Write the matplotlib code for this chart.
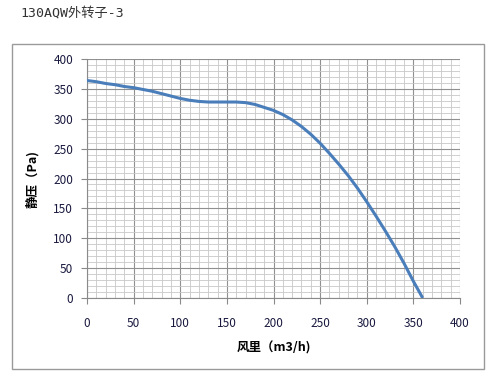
import matplotlib
matplotlib.use("Agg")
import matplotlib.pyplot as plt
from matplotlib.patches import Rectangle
from matplotlib.ticker import MultipleLocator

plt.rcParams['font.family'] = ['Noto Sans CJK SC', 'DejaVu Sans']

# Courbe (débit m3/h, pression statique Pa)
debit = [0, 10, 20, 30, 40, 50, 60, 70, 80, 90, 100, 110, 120, 130, 140, 150,
         160, 170, 180, 190, 200, 210, 220, 230, 240, 250, 260, 270, 280, 290,
         300, 310, 320, 330, 340, 350, 360]
pression = [364, 362, 359, 357, 354, 352, 349, 346, 342, 338, 334, 331, 329, 328,
            328, 328, 328, 327, 324, 319, 314, 307, 298, 287, 274, 259, 242, 224,
            205, 184, 161, 137, 112, 86, 58, 28, 0]

titre = "130AQW外转子-3"
x_nom = "风里（m3/h)"
y_nom = "静压（Pa)"

fig = plt.figure(figsize=(5.0, 3.84), dpi=100)
fig.text(0.04, 0.965, titre, fontsize=9.5, color="#333333", va="center", ha="left",
         family=['DejaVu Sans Mono', 'Noto Sans CJK SC'])

# Cadre gris autour du graphique
fig.patches.append(Rectangle((12 / 500, 1 - 369 / 384), 472 / 500, 325 / 384,
                             transform=fig.transFigure, fill=False,
                             edgecolor="#9a9a9a", linewidth=1.0))

ax = fig.add_axes([87 / 500, 1 - 298 / 384, 373 / 500, 239 / 384])
ax.plot(debit, pression, color="#4a7ebb", linewidth=2.2, solid_capstyle="butt", zorder=3)

ax.set_xlim(0, 400)
ax.set_ylim(0, 400)
ax.xaxis.set_major_locator(MultipleLocator(50))
ax.yaxis.set_major_locator(MultipleLocator(50))
ax.xaxis.set_minor_locator(MultipleLocator(10))
ax.yaxis.set_minor_locator(MultipleLocator(10))
ax.grid(True, which="major", color="#909090", linewidth=0.8)
ax.grid(True, which="minor", color="#c8c8c8", linewidth=0.6)

for cote in ["top", "right"]:
    ax.spines[cote].set_visible(False)
for cote in ["left", "bottom"]:
    ax.spines[cote].set_color("#8a8a8a")

ax.tick_params(which="major", length=4, color="#8a8a8a", labelsize=8.5,
               labelcolor="#1a1a40", direction="out")
ax.tick_params(which="minor", length=0)
ax.tick_params(axis="x", pad=10)
ax.tick_params(axis="y", pad=6)

ax.set_xlabel(x_nom, fontsize=9, fontweight="bold", labelpad=8)
ax.set_ylabel(y_nom, fontsize=9, fontweight="bold", labelpad=10)

fig.savefig("out.png", dpi=100)
